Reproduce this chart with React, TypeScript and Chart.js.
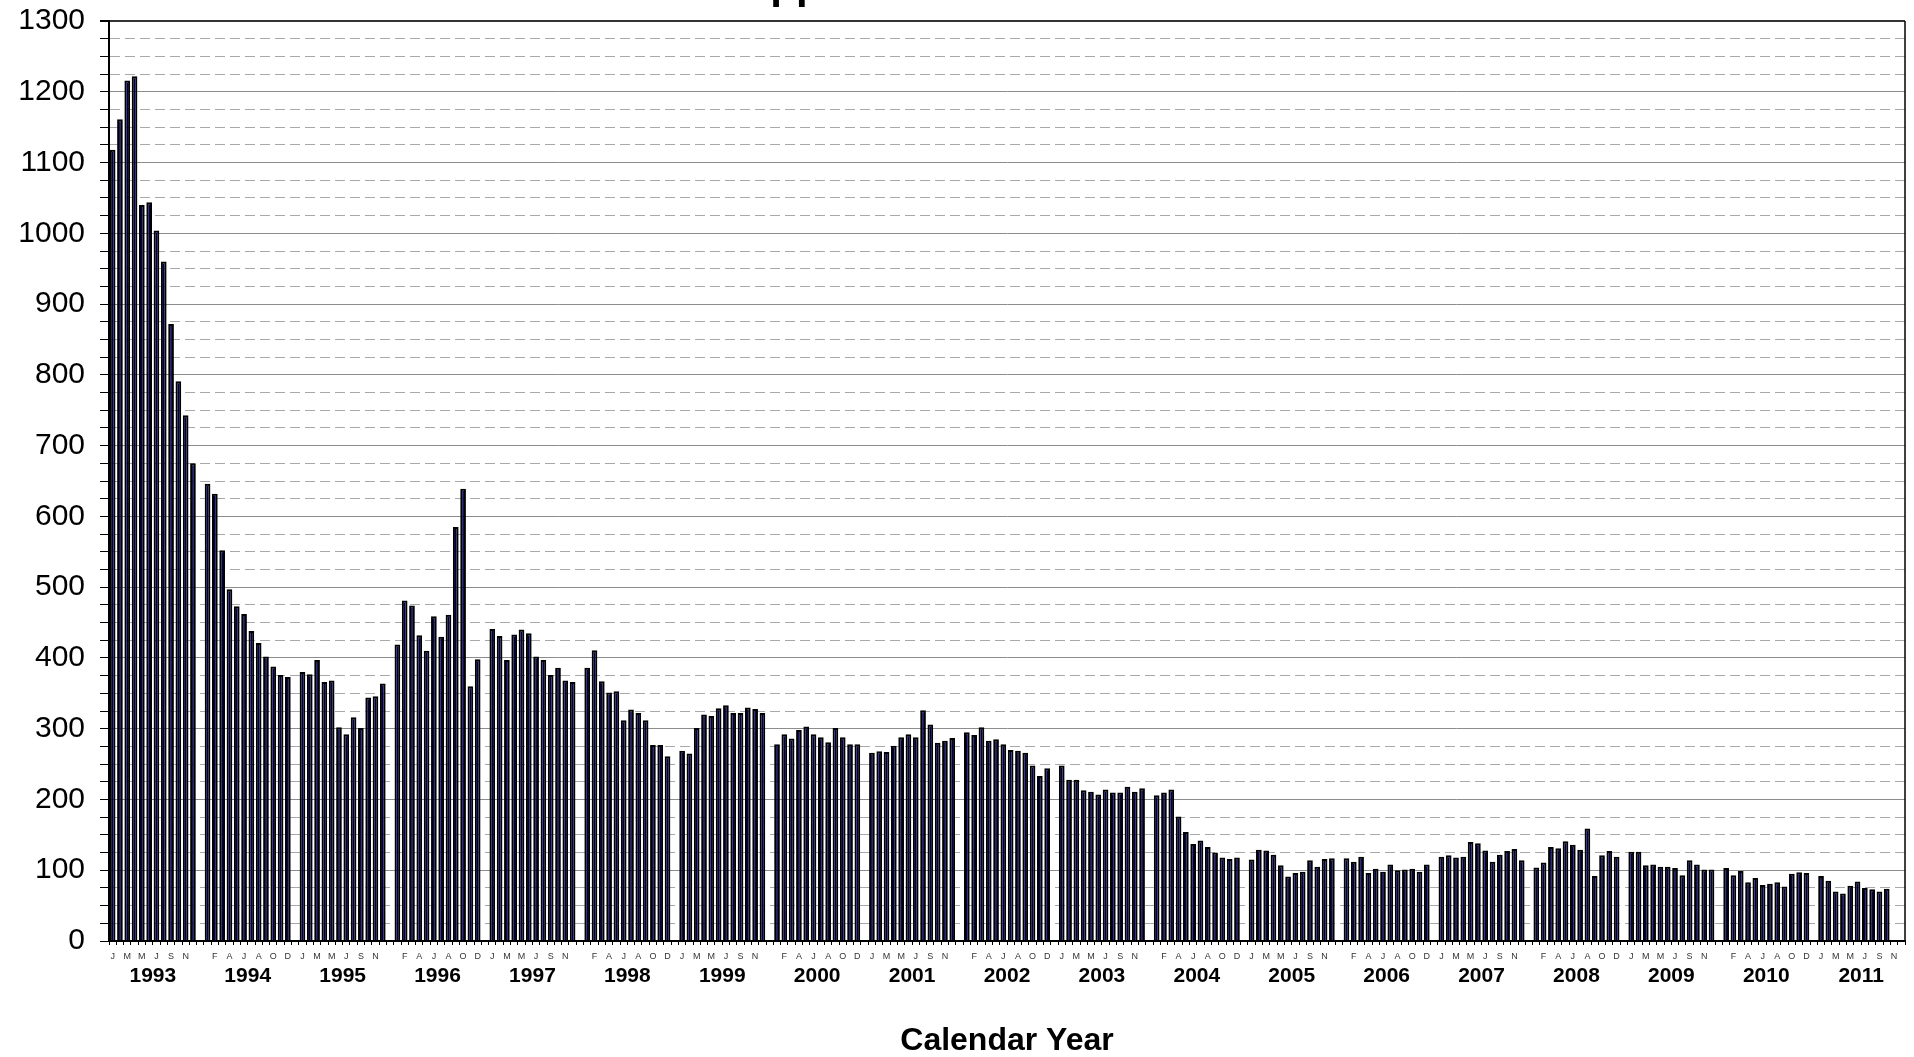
import React, { useEffect, useRef } from 'react';
import { Chart, registerables } from 'chart.js';

Chart.register(...registerables);

const TITLE = 'Applications Received';
const X_TITLE = 'Calendar Year';
const YEARS = ['1993', '1994', '1995', '1996', '1997', '1998', '1999', '2000', '2001', '2002', '2003', '2004', '2005', '2006', '2007', '2008', '2009', '2010', '2011'];
const MONTH_LETTERS = ['J', 'F', 'M', 'A', 'M', 'J', 'J', 'A', 'S', 'O', 'N', 'D'];

const v1993 = [1118, 1161, 1216, 1222, 1040, 1044, 1004, 960, 872, 791, 743, 675];
const v1994 = [646, 632, 552, 497, 473, 462, 438, 421, 402, 388, 376, 373];
const v1995 = [380, 377, 397, 366, 368, 302, 292, 316, 301, 344, 346, 364];
const v1996 = [419, 481, 474, 432, 410, 459, 430, 461, 585, 639, 360, 398];
const v1997 = [441, 431, 397, 433, 440, 435, 402, 397, 376, 386, 368, 366];
const v1998 = [386, 411, 367, 351, 353, 312, 327, 322, 312, 277, 277, 261];
const v1999 = [269, 265, 301, 320, 318, 329, 333, 322, 322, 330, 328, 322];
const v2000 = [278, 292, 286, 298, 303, 292, 288, 281, 301, 288, 278, 278];
const v2001 = [266, 268, 267, 276, 288, 292, 288, 326, 306, 280, 283, 287];
const v2002 = [295, 291, 302, 283, 285, 278, 270, 269, 266, 248, 233, 244];
const v2003 = [248, 228, 228, 213, 211, 207, 214, 210, 210, 218, 211, 216];
const v2004 = [206, 210, 214, 176, 154, 137, 142, 133, 125, 118, 116, 118];
const v2005 = [115, 129, 128, 122, 107, 91, 96, 98, 114, 105, 116, 117];
const v2006 = [117, 112, 119, 96, 102, 98, 108, 100, 101, 102, 98, 108];
const v2007 = [119, 121, 118, 119, 140, 138, 128, 112, 122, 127, 130, 114];
const v2008 = [104, 111, 133, 131, 141, 136, 129, 159, 92, 121, 127, 119];
const v2009 = [126, 126, 107, 108, 105, 105, 103, 93, 114, 108, 101, 101];
const v2010 = [103, 93, 99, 83, 89, 79, 81, 83, 77, 95, 97, 96];
const v2011 = [92, 85, 70, 67, 78, 84, 75, 73, 70, 74];

const YEAR_SERIES = [v1993, v1994, v1995, v1996, v1997, v1998, v1999, v2000, v2001, v2002, v2003, v2004, v2005, v2006, v2007, v2008, v2009, v2010, v2011];

const Y_MIN = 0;
const Y_MAX = 1300;
const Y_MINOR_STEP = 25;
const Y_MAJOR_STEP = 100;

const FONT = "'Liberation Sans', Arial, Helvetica, sans-serif";

export default function App() {
  const canvasRef = useRef<HTMLCanvasElement>(null);

  useEffect(() => {
    if (!canvasRef.current) return;
    const labels: string[] = [];
    const values: (number | null)[] = [];
    YEAR_SERIES.forEach((arr, yi) => {
      MONTH_LETTERS.forEach((m, mi) => {
        labels.push(m);
        values.push(mi < arr.length ? arr[mi] : null);
      });
      if (yi < YEAR_SERIES.length - 1) {
        labels.push('');
        values.push(null);
      }
    });
    const n = labels.length;
    const yearCenters = YEARS.map((_, yi) => yi * 13 + 5.5);

    const framePlugin = {
      id: 'frame',
      afterDraw(chart: any) {
        const { ctx, chartArea } = chart;
        ctx.save();
        ctx.strokeStyle = '#000';
        ctx.lineWidth = 1.5;
        ctx.beginPath();
        ctx.moveTo(chartArea.right, chartArea.top);
        ctx.lineTo(chartArea.right, chartArea.bottom);
        ctx.stroke();
        // title, mostly above the visible page
        ctx.fillStyle = '#000';
        ctx.font = `bold 42px ${FONT}`;
        ctx.textAlign = 'left';
        ctx.textBaseline = 'alphabetic';
        ctx.fillText(TITLE, 740, -2);
        ctx.restore();
      },
    };

    const chart = new Chart(canvasRef.current, {
      type: 'bar',
      data: {
        labels,
        datasets: [
          {
            data: values,
            backgroundColor: '#000045',
            borderColor: '#000000',
            borderWidth: 2,
            barPercentage: 0.78,
            categoryPercentage: 1,
          },
        ],
      },
      options: {
        animation: false,
        responsive: true,
        maintainAspectRatio: false,
        layout: { padding: { top: 21, right: 9, left: 0, bottom: 0 } },
        plugins: {
          legend: { display: false },
          tooltip: { enabled: false },
          title: { display: false },
        },
        scales: {
          x: {
            type: 'category',
            position: 'bottom',
            offset: true,
            grid: {
              offset: true,
              drawOnChartArea: false,
              drawTicks: true,
              tickLength: 4,
              tickColor: '#000',
              color: '#000',
            },
            border: { display: true, color: '#000', width: 2 },
            ticks: {
              autoSkip: false,
              maxRotation: 0,
              minRotation: 0,
              padding: 6,
              color: '#333',
              font: { family: FONT, size: 9 },
              callback: (_v: any, i: number) => (i % 2 === 0 ? labels[i] : ''),
            },
            afterFit: (s: any) => {
              s.height = 20;
              s.paddingLeft = 0;
              s.paddingRight = 0;
            },
          },
          x2: {
            type: 'linear',
            position: 'bottom',
            offset: false,
            min: -0.5,
            max: n - 0.5,
            grid: { display: false, drawTicks: false, offset: false },
            border: { display: false },
            afterBuildTicks: (s: any) => {
              s.ticks = yearCenters.map((v) => ({ value: v }));
            },
            ticks: {
              autoSkip: false,
              maxRotation: 0,
              padding: 3,
              color: '#000',
              font: { family: FONT, size: 21, weight: 'bold' },
              callback: (v: any) => {
                const idx = yearCenters.indexOf(Number(v));
                return idx >= 0 ? YEARS[idx] : '';
              },
            },
            title: {
              display: true,
              text: X_TITLE,
              color: '#000',
              font: { family: FONT, size: 32, weight: 'bold', lineHeight: 1 },
              padding: { top: 0, bottom: 0 },
            },
            afterFit: (s: any) => {
              s.height = 96;
              s.paddingLeft = 0;
              s.paddingRight = 0;
            },
          },
          y: {
            type: 'linear',
            min: Y_MIN,
            max: Y_MAX,
            ticks: {
              stepSize: Y_MINOR_STEP,
              autoSkip: false,
              padding: 15,
              color: '#000',
              font: { family: FONT, size: 30 },
              callback: (v: any) => (Number(v) % Y_MAJOR_STEP === 0 ? String(v) : ''),
            },
            grid: {
              drawTicks: true,
              tickLength: 9,
              tickColor: '#000',
              color: (c: any) => {
                const v = c.tick ? c.tick.value : 0;
                if (v === Y_MAX) return '#333';
                return v % Y_MAJOR_STEP === 0 ? '#8c8c8c' : '#a8a8a8';
              },
              lineWidth: (c: any) => {
                const v = c.tick ? c.tick.value : 0;
                return v === Y_MAX ? 2 : 1;
              },
            },
            border: {
              display: true,
              color: '#000',
              width: 2,
              dash: (c: any) => {
                const v = c.tick ? c.tick.value : 0;
                return v % Y_MAJOR_STEP === 0 ? [] : [10, 5];
              },
            },
            afterFit: (s: any) => {
              s.width = 109;
              s.paddingTop = 0;
              s.paddingBottom = 0;
            },
          },
        },
      },
      plugins: [framePlugin],
    } as any);

    return () => chart.destroy();
  }, []);

  return (
    <div style={{ position: 'absolute', left: 0, top: 0, width: 1914, height: 1057, background: '#fff' }}>
      <canvas ref={canvasRef} />
    </div>
  );
}
